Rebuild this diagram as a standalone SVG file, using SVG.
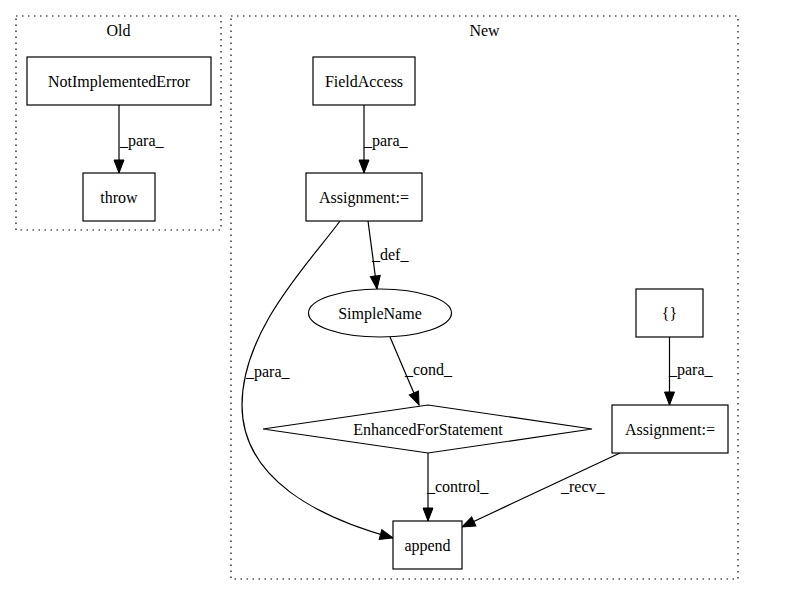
<svg xmlns="http://www.w3.org/2000/svg" width="795" height="596" viewBox="0 0 795 596">
<style>
text{font-family:"Liberation Serif","Times New Roman",serif;font-size:16px;fill:#000}
.c{text-anchor:middle}
.n{fill:#fff;stroke:#000;stroke-width:1.2}
.cl{fill:none;stroke:#000;stroke-width:1.2;stroke-dasharray:1.5,4.5}
.e{fill:none;stroke:#000;stroke-width:1.2;marker-end:url(#ah)}
</style>
<defs>
<marker id="ah" markerUnits="userSpaceOnUse" markerWidth="16" markerHeight="12" refX="13" refY="5" orient="auto" viewBox="0 0 16 12" overflow="visible">
<path d="M0,0 L13,5 L0,10 Z" fill="#000" stroke="#000"/>
</marker>
</defs>
<rect width="795" height="596" fill="#fff"/>
<g id="cluster_old">
<rect class="cl" x="16" y="16" width="205" height="214"/>
<text class="c" x="118.5" y="36">Old</text>
</g>
<g id="cluster_new">
<rect class="cl" x="231" y="16" width="507" height="563"/>
<text class="c" x="484.5" y="36">New</text>
</g>
<g id="edges">
<path class="e" d="M119,105 L119,173"/>
<text x="120" y="146">_para_</text>
<path class="e" d="M364,105 L364,173"/>
<text x="364" y="146">_para_</text>
<path class="e" d="M368,221 L377,289"/>
<text x="372" y="260">_def_</text>
<path class="e" d="M340,221 C310,262 242,330 242,405 C242,480 320,518 393,538"/>
<text x="246" y="377">_para_</text>
<path class="e" d="M390,337 L419,405"/>
<text x="405" y="375">_cond_</text>
<path class="e" d="M428,453 L428,521"/>
<text x="427" y="492">_control_</text>
<path class="e" d="M669.5,337 L669.5,405"/>
<text x="669" y="375">_para_</text>
<path class="e" d="M620,453 L462,527"/>
<text x="561" y="492">_recv_</text>
</g>
<g id="NotImplementedError">
<rect class="n" x="27" y="57" width="184" height="48"/>
<text class="c" x="119" y="86.5">NotImplementedError</text>
</g>
<g id="throw">
<rect class="n" x="83" y="173" width="72" height="48"/>
<text class="c" x="119" y="202.5">throw</text>
</g>
<g id="FieldAccess">
<rect class="n" x="313" y="57" width="102" height="48"/>
<text class="c" x="364" y="86.5">FieldAccess</text>
</g>
<g id="Assignment1">
<rect class="n" x="306" y="173" width="116" height="48"/>
<text class="c" x="364" y="202.5">Assignment:=</text>
</g>
<g id="SimpleName">
<ellipse class="n" cx="380" cy="313" rx="71.5" ry="24"/>
<text class="c" x="380" y="318.5">SimpleName</text>
</g>
<g id="braces">
<rect class="n" x="636" y="289" width="67" height="48"/>
<text class="c" x="669.5" y="318.5">{}</text>
</g>
<g id="EnhancedForStatement">
<polygon class="n" points="428,405 592,429 428,453 263,429"/>
<text class="c" x="428" y="434.5">EnhancedForStatement</text>
</g>
<g id="Assignment2">
<rect class="n" x="612" y="405" width="116" height="48"/>
<text class="c" x="670" y="434.5">Assignment:=</text>
</g>
<g id="append">
<rect class="n" x="393" y="521" width="69" height="48"/>
<text class="c" x="427.5" y="550.5">append</text>
</g>
</svg>
